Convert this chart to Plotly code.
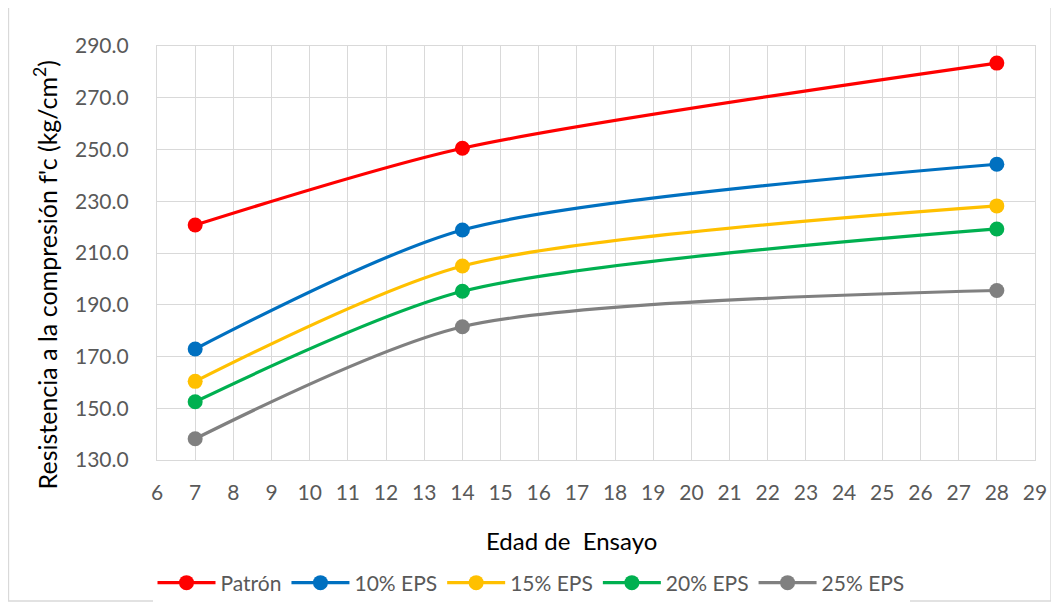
import plotly.graph_objects as go

edad = [7, 14, 28]
patron = [220.8, 250.5, 283.4]
eps10 = [172.9, 218.9, 244.3]
eps15 = [160.4, 205.0, 228.2]
eps20 = [152.5, 195.2, 219.3]
eps25 = [138.2, 181.5, 195.5]

names = ["Patrón", "10% EPS", "15% EPS", "20% EPS", "25% EPS"]
series = [patron, eps10, eps15, eps20, eps25]
colors = ["#FF0000", "#0070C0", "#FFC000", "#00B050", "#808080"]

x_ticks = list(range(6, 30))
y_ticks = [130, 150, 170, 190, 210, 230, 250, 270, 290]

FONT = "Lato"

fig = go.Figure()
for n, s, c in zip(names, series, colors):
    fig.add_trace(go.Scatter(
        x=edad, y=s, name=n, mode="lines+markers",
        line=dict(color=c, width=3.2, shape="spline", smoothing=0.75),
        marker=dict(color=c, size=15),
    ))

# page body has an 8px margin: work in reference coords, shift by OFF
OFF = 8
W, H = 1059 - OFF, 603 - OFF
L, R, T, B = 157 - OFF, 1059 - 1038, 46 - OFF, 603 - 460
pw, ph = W - L - R, H - T - B

def px(x):
    return (x - OFF - L) / pw

def py(y):
    return (H - B - (y - OFF)) / ph

fig.update_layout(
    width=W, height=H,
    margin=dict(l=L, r=R, t=T, b=B, pad=0),
    paper_bgcolor="white", plot_bgcolor="white",
    font=dict(family=FONT, size=20, color="#595959"),
    showlegend=True,
    legend=dict(orientation="h", xref="container", yref="container",
                x=(531 - OFF) / W, xanchor="center",
                y=(H - (583 - OFF)) / H, yanchor="middle",
                font=dict(size=21, color="#595959"),
                itemwidth=58, tracegroupgap=0),
    xaxis=dict(range=[6, 29], tickmode="array", tickvals=x_ticks,
               showgrid=True, gridcolor="#D9D9D9", gridwidth=1.3,
               showline=True, linecolor="#D9D9D9", linewidth=1.3, mirror=True,
               zeroline=False, ticks="outside", ticklen=14, tickcolor="rgba(0,0,0,0)",
               tickfont=dict(size=21, color="#595959")),
    yaxis=dict(range=[130, 290], tickmode="array", tickvals=y_ticks,
               tickformat=".1f",
               showgrid=True, gridcolor="#D9D9D9", gridwidth=1.3,
               showline=True, linecolor="#D9D9D9", linewidth=1.3, mirror=True,
               zeroline=False, ticks="outside", ticklen=23, tickcolor="rgba(0,0,0,0)",
               tickfont=dict(size=21, color="#595959")),
    annotations=[
        dict(text="Edad de  Ensayo", xref="paper", yref="paper",
             x=px(573), y=py(540), xanchor="center", yanchor="middle",
             showarrow=False, font=dict(size=24, color="black", family=FONT)),
        dict(text="Resistencia a la compresión f'c (kg/cm<sup>2</sup>)",
             xref="paper", yref="paper", textangle=-90,
             x=px(45), y=py(275), xanchor="center", yanchor="middle",
             showarrow=False, font=dict(size=25, color="black", family=FONT)),
    ],
    shapes=[
        dict(type="rect", xref="paper", yref="paper",
             x0=px(8), x1=px(1054), y0=py(601), y1=py(5),
             line=dict(color="#D9D9D9", width=1.3), layer="below"),
    ],
)

fig.write_html("out.html")
